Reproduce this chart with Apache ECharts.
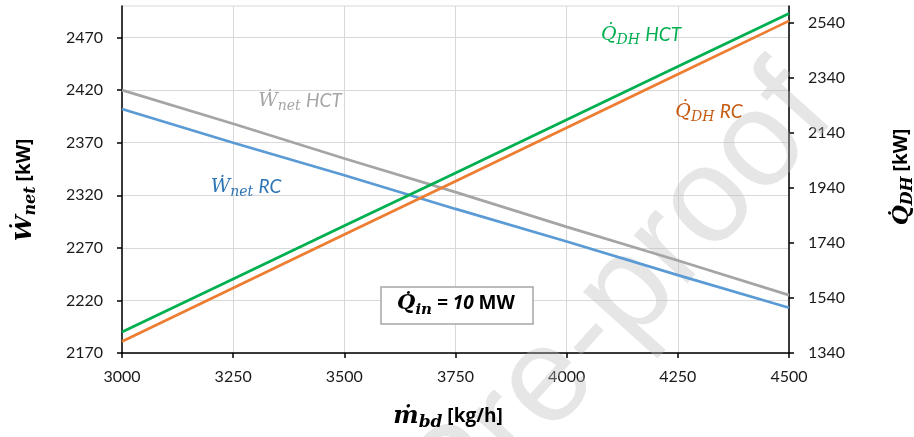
<!DOCTYPE html>
<html>
<head>
<meta charset="utf-8">
<script src="https://cdn.jsdelivr.net/npm/echarts@6/dist/echarts.min.js"></script>
<style>
  html, body { margin: 0; padding: 0; background: #ffffff; }
  #chart { width: 914px; height: 437px; }
</style>
</head>
<body>
<div id="chart"></div>
<script>
// Blowdown mass flow (kg/h) on the x axis
const massFlow = [3000, 3250, 3500, 3750, 4000, 4250, 4500];

// Net power output (kW), left axis
const wNetHCT = [2420, 2388, 2355, 2323, 2290, 2258, 2225];
const wNetRC  = [2402, 2370, 2339, 2307, 2276, 2244, 2213];

// District heating duty (kW), right axis
const qDhHCT = [1416, 1609, 1802, 1994, 2187, 2380, 2573];
const qDhRC  = [1382, 1576, 1770, 1964, 2158, 2352, 2546];

// Tick labels
const xTicks     = [3000, 3250, 3500, 3750, 4000, 4250, 4500];
const leftTicks  = [2170, 2220, 2270, 2320, 2370, 2420, 2470];
const rightTicks = [1340, 1540, 1740, 1940, 2140, 2340, 2540];

const MATH = '"DejaVu Serif", "Liberation Serif", serif';
const SANS = 'Lato, "Open Sans", sans-serif';
const SANS_BOLD = '"Open Sans", "Liberation Sans", sans-serif';

const C_GREY = '#a5a5a5', C_BLUE = '#5b9bd5', C_GREEN = '#00b050', C_ORANGE = '#ed7d31';

const pairs = (xs, ys) => xs.map((x, i) => [x, ys[i]]);

// Build a horizontally centred run of text pieces (letters, subscripts, units)
const measure = document.createElement('canvas').getContext('2d');
function fontOf(p) {
  return (p.style || 'normal') + ' ' + (p.weight || 'normal') + ' ' + p.size + 'px ' + p.family;
}
function mathLabel(cx, cy, parts, rotation) {
  const widths = parts.map(p => { measure.font = fontOf(p); return measure.measureText(p.text).width; });
  const total = widths.reduce((a, b) => a + b, 0) + parts.reduce((a, p) => a + (p.gap || 0), 0);
  let x = -total / 2;
  const children = parts.map((p, i) => {
    x += (p.gap || 0);
    const el = {
      type: 'text', x: x, y: p.dy || 0, silent: true, z: 100,
      style: {
        text: p.text, fontSize: p.size, fontFamily: p.family,
        fontStyle: p.style || 'normal', fontWeight: p.weight || 'normal',
        fill: p.color, align: 'left', verticalAlign: 'middle'
      }
    };
    x += widths[i];
    return el;
  });
  return { type: 'group', x: cx, y: cy, rotation: rotation || 0, z: 100, children: children };
}

const W_DOT = '\u1E86';       // W with dot above
const Q_DOT = 'Q\u0307';      // Q with combining dot above
const M_DOT = '\u1E41';       // m with dot above

function seriesLabel(cx, cy, sym, sub, tail, color) {
  return mathLabel(cx, cy, [
    { text: sym, size: 19, family: MATH, style: 'italic', color: color },
    { text: sub, size: 14, family: MATH, style: 'italic', color: color, dy: 5 },
    { text: ' ' + tail, size: 19, family: SANS, style: 'italic', color: color, gap: 1 }
  ]);
}

const chart = echarts.init(document.getElementById('chart'), null, { renderer: 'canvas' });

const axisLabelStyle = { fontFamily: SANS, fontSize: 16, color: '#1a1a1a' };
const plain = v => String(v);

chart.setOption({
  animation: false,
  backgroundColor: '#ffffff',
  grid: {
    left: 122, right: 125, top: 6, bottom: 84,
    show: true, borderColor: '#d9d9d9', borderWidth: 1, backgroundColor: 'transparent'
  },
  xAxis: {
    type: 'value', min: 3000, max: 4500, interval: 250,
    axisLine: { show: true, onZero: false, lineStyle: { color: '#000', width: 1.5 } },
    axisTick: { show: true, length: 5, lineStyle: { color: '#000', width: 1.5 }, customValues: xTicks },
    axisLabel: Object.assign({ margin: 16, customValues: xTicks, formatter: plain }, axisLabelStyle),
    splitLine: { show: true, lineStyle: { color: '#d9d9d9', width: 1 } }
  },
  yAxis: [
    {
      type: 'value', position: 'left', min: 2170, max: 2500, interval: 50,
      axisLine: { show: true, onZero: false, lineStyle: { color: '#000', width: 1.5 } },
      axisTick: { show: true, length: 5, lineStyle: { color: '#000', width: 1.5 }, customValues: leftTicks },
      axisLabel: Object.assign({
        margin: 19, customValues: leftTicks,
        formatter: v => (leftTicks.indexOf(v) >= 0 ? String(v) : '')
      }, axisLabelStyle),
      splitLine: { show: true, lineStyle: { color: '#d9d9d9', width: 1 } }
    },
    {
      type: 'value', position: 'right', min: 1340, max: 2600, interval: 200,
      axisLine: { show: true, onZero: false, lineStyle: { color: '#000', width: 1.5 } },
      axisTick: { show: true, length: 5, lineStyle: { color: '#000', width: 1.5 }, customValues: rightTicks },
      axisLabel: Object.assign({
        margin: 19, customValues: rightTicks,
        formatter: v => (rightTicks.indexOf(v) >= 0 ? String(v) : '')
      }, axisLabelStyle),
      splitLine: { show: false }
    }
  ],
  series: [
    { name: 'W_net HCT', type: 'line', yAxisIndex: 0, data: pairs(massFlow, wNetHCT),
      showSymbol: false, lineStyle: { color: C_GREY, width: 2.75 }, itemStyle: { color: C_GREY }, z: 3 },
    { name: 'W_net RC', type: 'line', yAxisIndex: 0, data: pairs(massFlow, wNetRC),
      showSymbol: false, lineStyle: { color: C_BLUE, width: 2.75 }, itemStyle: { color: C_BLUE }, z: 3 },
    { name: 'Q_DH HCT', type: 'line', yAxisIndex: 1, data: pairs(massFlow, qDhHCT),
      showSymbol: false, lineStyle: { color: C_GREEN, width: 2.75 }, itemStyle: { color: C_GREEN }, z: 4 },
    { name: 'Q_DH RC', type: 'line', yAxisIndex: 1, data: pairs(massFlow, qDhRC),
      showSymbol: false, lineStyle: { color: C_ORANGE, width: 2.75 }, itemStyle: { color: C_ORANGE }, z: 4 }
  ],
  graphic: [
    // faint diagonal watermark behind the lines
    {
      type: 'text', x: 810, y: 91, rotation: 48 * Math.PI / 180, z: 1, silent: true,
      style: {
        text: 'Journal Pre-proof', fontSize: 136, fontFamily: '"Liberation Sans", Arial, sans-serif',
        fill: 'rgba(185,185,185,0.36)', align: 'right', verticalAlign: 'middle'
      }
    },
    // series annotations
    seriesLabel(300, 101, W_DOT, 'net', 'HCT', '#a6a6a6'),
    seriesLabel(246, 187, W_DOT, 'net', 'RC', '#2e75b6'),
    seriesLabel(641, 35, Q_DOT, 'DH', 'HCT', '#00b050'),
    seriesLabel(709, 112, Q_DOT, 'DH', 'RC', '#c55a11'),
    // heat input box
    {
      type: 'rect', z: 90, silent: true,
      shape: { x: 381, y: 287, width: 152, height: 37 },
      style: { fill: '#ffffff', stroke: '#a6a6a6', lineWidth: 1.5 }
    },
    mathLabel(456, 304, [
      { text: Q_DOT, size: 21, family: MATH, style: 'italic', weight: 'bold', color: '#000' },
      { text: 'in', size: 15, family: MATH, style: 'italic', weight: 'bold', color: '#000', dy: 6 },
      { text: ' = 10', size: 19, family: SANS_BOLD, style: 'italic', weight: 'bold', color: '#000' },
      { text: ' MW', size: 19, family: SANS_BOLD, weight: 'bold', color: '#000' }
    ]),
    // axis titles
    mathLabel(25, 190, [
      { text: W_DOT, size: 23, family: MATH, style: 'italic', weight: 'bold', color: '#000' },
      { text: 'net', size: 16, family: MATH, style: 'italic', weight: 'bold', color: '#000', dy: 6 },
      { text: ' [kW]', size: 19, family: SANS_BOLD, weight: 'bold', color: '#000' }
    ], Math.PI / 2),
    mathLabel(902, 177, [
      { text: Q_DOT, size: 23, family: MATH, style: 'italic', weight: 'bold', color: '#000' },
      { text: 'DH', size: 16, family: MATH, style: 'italic', weight: 'bold', color: '#000', dy: 6 },
      { text: ' [kW]', size: 19, family: SANS_BOLD, weight: 'bold', color: '#000' }
    ], Math.PI / 2),
    mathLabel(448, 417, [
      { text: M_DOT, size: 24, family: MATH, style: 'italic', weight: 'bold', color: '#000' },
      { text: 'bd', size: 17, family: MATH, style: 'italic', weight: 'bold', color: '#000', dy: 6 },
      { text: ' [kg/h]', size: 19, family: SANS_BOLD, weight: 'bold', color: '#000' }
    ])
  ]
});
</script>
</body>
</html>
